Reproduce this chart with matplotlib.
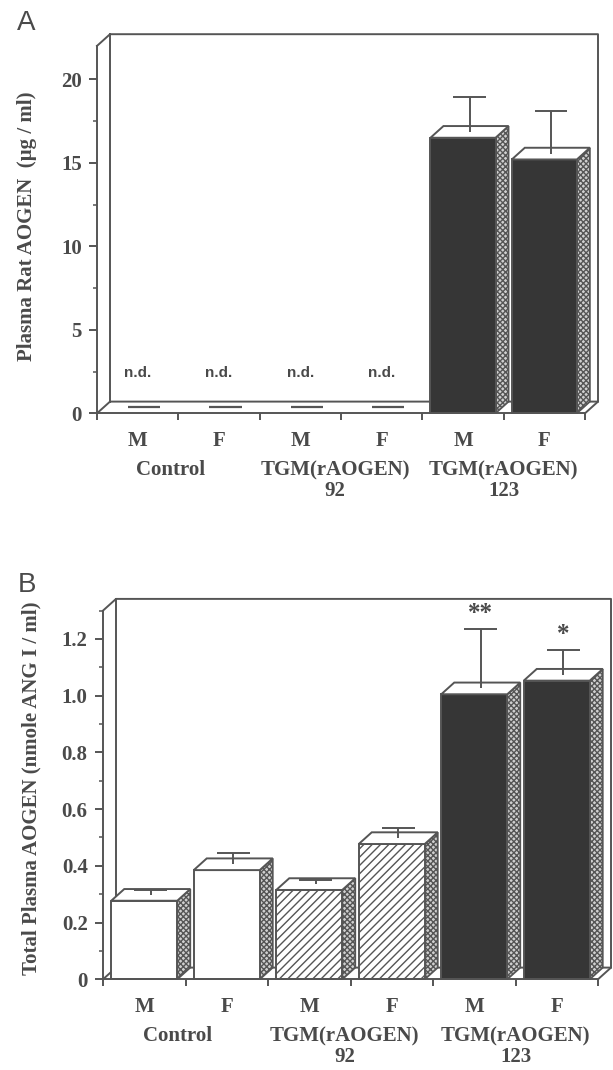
import matplotlib
matplotlib.use("Agg")
import matplotlib.pyplot as plt
from matplotlib.patches import Polygon, Rectangle
from matplotlib.transforms import offset_copy
from matplotlib.ticker import FuncFormatter

# categories
sexes = ["M", "F", "M", "F", "M", "F"]
group_names = ["Control", "TGM(rAOGEN)", "TGM(rAOGEN)"]
group_numbers = ["", "92", "123"]
bar_kind = ["control", "control", "tgm92", "tgm92", "tgm123", "tgm123"]

# panel A: plasma rat AOGEN (ug/ml), n.d. = not detected
rat_aogen = [0, 0, 0, 0, 16.5, 15.2]
rat_aogen_sd = [0, 0, 0, 0, 2.1, 2.55]
rat_aogen_nd = [True, True, True, True, False, False]

# panel B: total plasma AOGEN (nmole ANG I/ml)
total_aogen = [0.277, 0.385, 0.315, 0.477, 1.005, 1.053]
total_aogen_sd = [0.018, 0.041, 0.015, 0.037, 0.21, 0.088]
total_aogen_marks = ["", "", "", "", "**", "*"]

INK = "#4a4a4a"
LINE = "#555555"
DARK = "#363636"
DEPTH_X, DEPTH_Y = 13, 11.7   # pixels of the fake 3-D depth
BAR_W = 0.8
CAP_W = 0.4
FS = 15

plt.rcParams["font.family"] = ["Liberation Serif", "DejaVu Serif"]
plt.rcParams["font.weight"] = "bold"
plt.rcParams["hatch.linewidth"] = 1.0
plt.rcParams["text.color"] = INK
plt.rcParams["xtick.color"] = LINE
plt.rcParams["ytick.color"] = LINE
plt.rcParams["xtick.labelcolor"] = INK
plt.rcParams["ytick.labelcolor"] = INK

fig = plt.figure(figsize=(6.13, 10.7), dpi=100)
FW, FH = 613, 1070


def face_style(kind):
    if kind == "control":
        return dict(facecolor="white", hatch=None)
    if kind == "tgm92":
        return dict(facecolor="white", hatch="////")
    return dict(facecolor=DARK, hatch=None)


def draw_panel(rect, values, errs, nd, marks, ymax, major, minor, ylabel, ylabel_pos, letter, letter_pos):
    ax = fig.add_axes([rect[0] / FW, 1 - rect[3] / FH, (rect[2] - rect[0]) / FW, (rect[3] - rect[1]) / FH])
    n = len(values)
    ax.set_xlim(0, n)
    ax.set_ylim(0, ymax)
    dx = DEPTH_X / ((rect[2] - rect[0]) / n)
    dy = DEPTH_Y / ((rect[3] - rect[1]) / ymax)

    for s in ["top", "right"]:
        ax.spines[s].set_visible(False)
    for s in ["left", "bottom"]:
        ax.spines[s].set_color(LINE)
        ax.spines[s].set_linewidth(1.4)
        ax.spines[s].set_zorder(6)
    ax.set_xticks(range(n + 1))
    ax.set_xticklabels([])
    ax.set_yticks(major)
    ax.set_yticks(minor, minor=True)
    ax.tick_params(axis="x", direction="out", length=5, width=1.4)
    ax.tick_params(axis="y", which="major", direction="out", length=6, width=1.4, labelsize=FS, pad=5)
    ax.tick_params(axis="y", which="minor", direction="out", length=3, width=1.1)
    ax.patch.set_alpha(0)

    # back wall and floor
    wall = dict(color=LINE, lw=1.4, clip_on=False, zorder=1)
    ax.plot([0, dx, n + dx, n + dx, n], [ymax, ymax + dy, ymax + dy, dy, 0], **wall)
    ax.plot([dx, dx], [dy, ymax + dy], **wall)
    ax.plot([0, dx, n + dx], [0, dy, dy], **wall)

    for i, (v, e) in enumerate(zip(values, errs)):
        x0 = i + (1 - BAR_W) / 2
        x1 = x0 + BAR_W
        xc = i + 0.5 + dx / 2
        if not nd[i]:
            side = Polygon([(x1, 0), (x1 + dx, dy), (x1 + dx, v + dy), (x1, v)], closed=True,
                           facecolor="#d0d0d0", edgecolor=LINE, hatch="xxxxxx", lw=1.3, zorder=3, clip_on=False)
            ax.add_patch(side)
            st = face_style(bar_kind[i])
            front = Rectangle((x0, 0), BAR_W, v, edgecolor=LINE, lw=1.4, zorder=3, clip_on=False, **st)
            ax.add_patch(front)
            top = Polygon([(x0, v), (x1, v), (x1 + dx, v + dy), (x0 + dx, v + dy)], closed=True,
                          facecolor="white", edgecolor=LINE, lw=1.4, zorder=3, clip_on=False)
            ax.add_patch(top)
            ybase = v + dy / 2
            ax.vlines(xc, ybase, ybase + e, color=LINE, lw=1.4, zorder=4, clip_on=False)
            ax.hlines(ybase + e, xc - CAP_W / 2, xc + CAP_W / 2, color=LINE, lw=1.4, zorder=4, clip_on=False)
            if marks and marks[i]:
                ax.annotate(marks[i], (xc, ybase + e), xytext=(0, 3), textcoords="offset points",
                            ha="center", va="bottom", fontsize=18, color=INK)
        else:
            ax.hlines(dy / 2, xc - CAP_W / 2, xc + CAP_W / 2, color=LINE, lw=1.6, zorder=4)
            ax.text(i + 0.5, ymax * 0.11, "n.d.", ha="center", va="center", fontsize=11,
                    family=["Liberation Sans Narrow", "Liberation Sans", "DejaVu Sans"], weight="bold", color=INK)

    # category labels under the front axis
    tr = ax.get_xaxis_transform()
    for i, s in enumerate(sexes):
        ax.text(i + 0.5, 0, s, transform=offset_copy(tr, fig=fig, y=-28, units="dots"),
                ha="center", va="center", fontsize=FS)
    for g, (name, num) in enumerate(zip(group_names, group_numbers)):
        gx = [0.9, 2.93, 5.0][g]
        ax.text(gx, 0, name, transform=offset_copy(tr, fig=fig, y=-57, units="dots"),
                ha="center", va="center", fontsize=FS)
        if num:
            ax.text(gx, 0, num, transform=offset_copy(tr, fig=fig, y=-78, units="dots"),
                    ha="center", va="center", fontsize=FS)

    fig.text(ylabel_pos[0] / FW, 1 - ylabel_pos[1] / FH, ylabel, rotation=90,
             ha="center", va="center", fontsize=FS)
    fig.text(letter_pos[0] / FW, 1 - letter_pos[1] / FH, letter, ha="center", va="center",
             fontsize=20, weight="normal", family=["Liberation Sans", "DejaVu Sans"], color=INK)
    return ax


draw_panel((97, 45.9, 585, 413.3), rat_aogen, rat_aogen_sd, rat_aogen_nd, None,
           22, [0, 5, 10, 15, 20], [2.5, 7.5, 12.5, 17.5],
           "Plasma Rat AOGEN  (\u00b5g / ml)", (27, 226), "A", (26, 23))

ax_b = draw_panel((103, 610.6, 598, 979.3), total_aogen, total_aogen_sd, [False] * 6, total_aogen_marks,
                  1.3, [0, 0.2, 0.4, 0.6, 0.8, 1.0, 1.2], [0.1, 0.3, 0.5, 0.7, 0.9, 1.1, 1.3],
                  "Total Plasma AOGEN (nmole ANG I / ml)", (31.7, 788), "B", (27, 585))
ax_b.yaxis.set_major_formatter(FuncFormatter(lambda v, p: "0" if v == 0 else f"{v:.1f}"))

fig.savefig("out.png", dpi=100)
